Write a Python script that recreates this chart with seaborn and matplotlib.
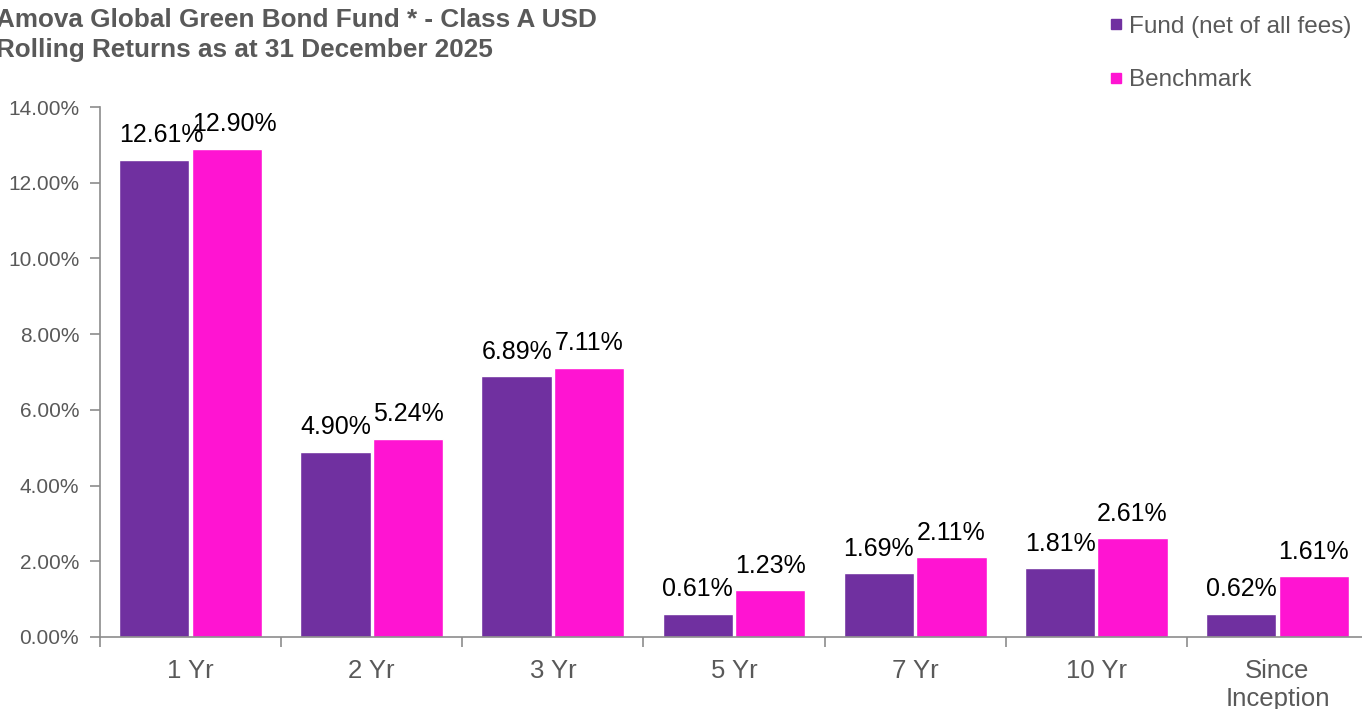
import pandas as pd
import matplotlib.pyplot as plt
import seaborn as sns
from matplotlib.lines import Line2D
from matplotlib.ticker import FuncFormatter, FixedLocator

# Chart data
periods = ['1 Yr', '2 Yr', '3 Yr', '5 Yr', '7 Yr', '10 Yr', 'Since\nInception']
fund = [12.61, 4.90, 6.89, 0.61, 1.69, 1.81, 0.62]
benchmark = [12.90, 5.24, 7.11, 1.23, 2.11, 2.61, 1.61]
series_names = ['Fund (net of all fees)', 'Benchmark']
colors = ['#7030A0', '#FF14D2']

df = pd.DataFrame({
    'period': periods * 2,
    'value': fund + benchmark,
    'series': [series_names[0]] * len(periods) + [series_names[1]] * len(periods),
})

sns.set_style('white')
plt.rcParams['font.family'] = ['Liberation Sans', 'DejaVu Sans']

grey = '#595959'
axis_grey = '#8C8C8C'

fig = plt.figure(figsize=(13.62, 7.09), dpi=100)
ax = fig.add_axes([100 / 1362, 1 - 637 / 709, 1268 / 1362, (637 - 107) / 709])

sns.barplot(data=df, x='period', y='value', hue='series', palette=colors,
            saturation=1, width=0.8, gap=0.03, edgecolor='white', linewidth=1, ax=ax)

ax.set_xlim(-0.5, len(periods) - 0.5)
ax.set_ylim(0, 14)
ax.set_yticks(range(0, 15, 2))
ax.yaxis.set_major_formatter(FuncFormatter(lambda v, p: f'{v:.2f}%'))
ax.set_xlabel('')
ax.set_ylabel('')

# data labels (the 1 Yr pair sits left-aligned on its bars, as in the source)
for cont in ax.containers:
    anns = ax.bar_label(cont, labels=[f'{v:.2f}%' for v in cont.datavalues],
                        padding=9, fontsize=18, color='black')
    first = cont.patches[0]
    anns[0].xy = (first.get_x(), first.get_height())
    anns[0].set_ha('left')

# spines and ticks
for s in ['top', 'right']:
    ax.spines[s].set_visible(False)
for s in ['left', 'bottom']:
    ax.spines[s].set_color(axis_grey)
    ax.spines[s].set_linewidth(1.2)

ax.tick_params(axis='y', which='major', direction='out', length=7, width=1.2,
               color=axis_grey, labelsize=15, labelcolor=grey, pad=8, left=True)
ax.tick_params(axis='x', which='major', length=0, labelsize=18.5, labelcolor=grey, pad=16)
ax.xaxis.set_minor_locator(FixedLocator([i - 0.5 for i in range(len(periods) + 1)]))
ax.tick_params(axis='x', which='minor', direction='out', length=7, width=1.2,
               color=axis_grey, bottom=True)

# legend
ax.get_legend().remove()
handles = [Line2D([0], [0], marker='s', linestyle='none', markersize=7,
                  markerfacecolor=c, markeredgecolor=c) for c in colors]
fig.legend(handles, series_names, loc='upper left', bbox_to_anchor=(1094 / 1362, 1.0),
           frameon=False, fontsize=17.5, labelcolor=grey, handlelength=0.5,
           handletextpad=0.3, labelspacing=1.3, borderaxespad=0.25)

# title
fig.text(-4 / 1362, 1 - 8 / 709,
         'Amova Global Green Bond Fund * - Class A USD\nRolling Returns as at 31 December 2025',
         ha='left', va='top', fontsize=18.8, fontweight='bold', color=grey, linespacing=1.32)

fig.savefig('out.png', dpi=100)
